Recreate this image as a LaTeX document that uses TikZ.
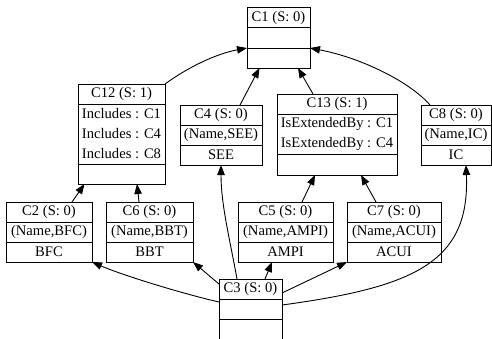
\documentclass[tikz,border=0pt]{standalone}
\usepackage{fontspec}
\setmainfont{Liberation Serif}
\usetikzlibrary{arrows.meta}
\newcommand\mkbox[5]{\node[umlbox, minimum width=#4bp, minimum height=#5bp] (#1) at (#2,#3) {};}
\newcommand\sepline[2]{\draw[sepl] ([yshift=-#2bp]#1.north west) -- ([yshift=-#2bp]#1.north east);}
\newcommand\rowtext[4]{\node[lbl] (#1) at ([yshift=-#3bp]#2.north) {#4};}
\begin{document}
\begin{tikzpicture}[x=1bp,y=-1bp,
  umlbox/.style={draw, line width=0.9bp, inner sep=0, outer sep=0, anchor=north west},
  sepl/.style={line width=0.9bp},
  lbl/.style={font=\fontsize{14.6bp}{16bp}\selectfont, inner sep=0},
  arr/.style={-{Triangle[length=10bp,width=7.5bp]}, line width=0.9bp}]
\useasboundingbox (0,0) rectangle (492,338);
\clip (0,0) rectangle (492,338);

% C1
\mkbox{c1}{247}{7}{63}{61}
\sepline{c1}{20.5}\sepline{c1}{41}
\rowtext{c1t}{c1}{10.5}{C1 (S: 0)}

% C12
\mkbox{c12}{78}{84}{87}{100}
\sepline{c12}{20}\sepline{c12}{80}
\rowtext{c12t}{c12}{10}{C12 (S: 1)}
\rowtext{c12a}{c12}{30}{Includes : C1}
\rowtext{c12b}{c12}{50}{Includes : C4}
\rowtext{c12c}{c12}{70}{Includes : C8}

% C4
\mkbox{c4}{180}{105}{82}{60}
\sepline{c4}{20}\sepline{c4}{40}
\rowtext{c4t}{c4}{10}{C4 (S: 0)}
\rowtext{c4a}{c4}{30}{(Name,SEE)}
\rowtext{c4b}{c4}{50}{SEE}

% C13
\mkbox{c13}{277}{94}{120}{81}
\sepline{c13}{20}\sepline{c13}{60}
\rowtext{c13t}{c13}{10}{C13 (S: 1)}
\rowtext{c13a}{c13}{30}{IsExtendedBy : C1}
\rowtext{c13b}{c13}{50}{IsExtendedBy : C4}

% C8
\mkbox{c8}{421}{105}{70}{60}
\sepline{c8}{20}\sepline{c8}{40}
\rowtext{c8t}{c8}{10}{C8 (S: 0)}
\rowtext{c8a}{c8}{30}{(Name,IC)}
\rowtext{c8b}{c8}{50}{IC}

% C2
\mkbox{c2}{6}{202}{86}{60}
\sepline{c2}{20}\sepline{c2}{40}
\rowtext{c2t}{c2}{10}{C2 (S: 0)}
\rowtext{c2a}{c2}{30}{(Name,BFC)}
\rowtext{c2b}{c2}{50}{BFC}

% C6
\mkbox{c6}{106}{202}{87}{60}
\sepline{c6}{20}\sepline{c6}{40}
\rowtext{c6t}{c6}{10}{C6 (S: 0)}
\rowtext{c6a}{c6}{30}{(Name,BBT)}
\rowtext{c6b}{c6}{50}{BBT}

% C5
\mkbox{c5}{238}{202}{95}{60}
\sepline{c5}{20}\sepline{c5}{40}
\rowtext{c5t}{c5}{10}{C5 (S: 0)}
\rowtext{c5a}{c5}{30}{(Name,AMPI)}
\rowtext{c5b}{c5}{50}{AMPI}

% C7
\mkbox{c7}{347}{202}{94}{60}
\sepline{c7}{20}\sepline{c7}{40}
\rowtext{c7t}{c7}{10}{C7 (S: 0)}
\rowtext{c7a}{c7}{30}{(Name,ACUI)}
\rowtext{c7b}{c7}{50}{ACUI}

% C3
\mkbox{c3}{219}{279}{63}{70}
\sepline{c3}{20}\sepline{c3}{40}
\rowtext{c3t}{c3}{10}{C3 (S: 0)}

% connectors
\draw[arr] (c12.north east) .. controls (187,68) and (215,54) .. ([yshift=-41bp]c1.north west);
\draw[arr] ([xshift=19bp]c4.north) -- ([xshift=-19bp]c1.south);
\draw[arr] ([xshift=-24bp]c13.north) -- ([xshift=19.5bp]c1.south);
\draw[arr] ([xshift=-26bp]c8.north) .. controls (410,82) and (362,58) .. ([yshift=-41bp]c1.north east);
\draw[arr] ([xshift=23bp]c2.north) -- ([xshift=-37bp]c12.south);
\draw[arr] ([xshift=-10.5bp]c6.north) -- ([xshift=15.5bp]c12.south);
\draw[arr] ([xshift=16.5bp]c5.north) -- ([xshift=-22bp]c13.south);
\draw[arr] ([xshift=-18bp]c7.north) -- ([xshift=24bp]c13.south);
\draw[arr] ([yshift=-23bp]c3.north west) .. controls (180,293) and (122,275) .. (c2.south east);
\draw[arr] ([yshift=-5bp]c3.north west) -- (c6.south east);
\draw[arr] ([xshift=-13.5bp]c3.north) .. controls (230,240) and (221,205) .. (c4.south);
\draw[arr] ([xshift=14.5bp]c3.north) -- ([xshift=-13.5bp]c5.south);
\draw[arr] ([yshift=-14bp]c3.north east) -- (c7.south west);
\draw[arr] ([yshift=-26bp]c3.north east) .. controls (415,287) and (470,262) .. ([xshift=10bp]c8.south);
\end{tikzpicture}
\end{document}
